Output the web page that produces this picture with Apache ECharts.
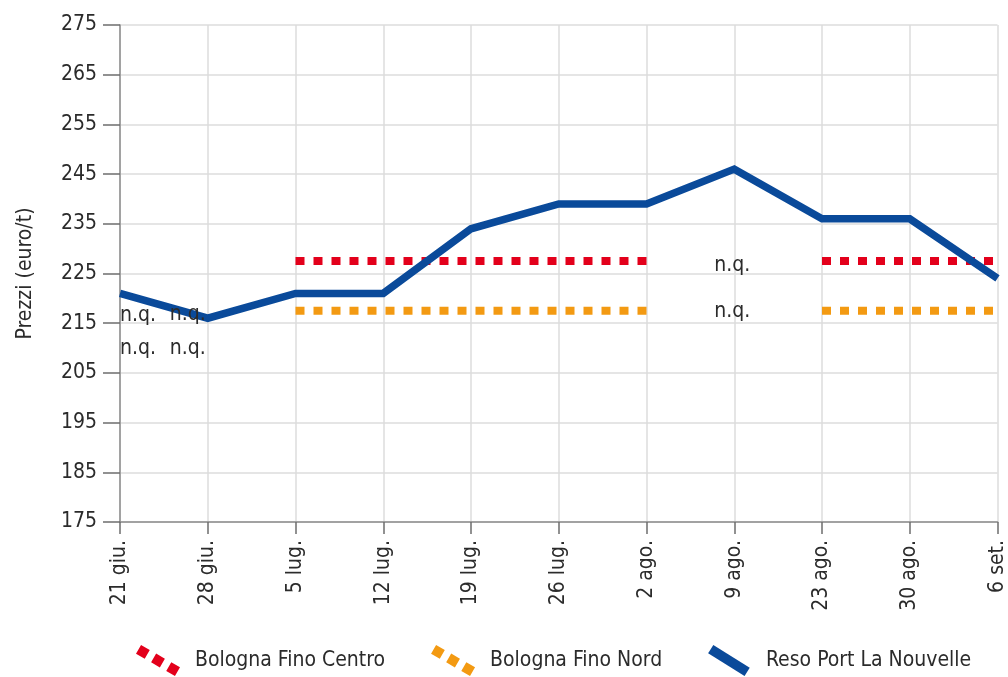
<!DOCTYPE html>
<html>
<head>
<meta charset="utf-8">
<script src="https://cdn.jsdelivr.net/npm/echarts@6/dist/echarts.min.js"></script>
<style>
  html, body { margin: 0; padding: 0; background: #fff; }
  #chart { width: 1008px; height: 677px; }
</style>
</head>
<body>
<div id="chart"></div>
<script>
// categorie (settimane)
var settimane = ['21 giu.', '28 giu.', '5 lug.', '12 lug.', '19 lug.', '26 lug.', '2 ago.', '9 ago.', '23 ago.', '30 ago.', '6 set.'];
// prezzi euro/t, null = n.q.
var finoCentro = [null, null, 227.5, 227.5, 227.5, 227.5, 227.5, null, 227.5, 227.5, 227.5];
var finoNord = [null, null, 217.5, 217.5, 217.5, 217.5, 217.5, null, 217.5, 217.5, 217.5];
var portLaNouvelle = [221, 216, 221, 221, 234, 239, 239, 246, 236, 236, 224];
// etichette n.q. (settimana, livello)
var nqCentro = [['21 giu.', 216.6], ['28 giu.', 216.8], ['9 ago.', 226.7]];
var nqNord = [['21 giu.', 210], ['28 giu.', 210], ['9 ago.', 217.3]];
var yTicks = { min: 175, max: 275, step: 10 };

var FONT = '"Liberation Sans Narrow", "DejaVu Sans Condensed", sans-serif';
var FS = 21;
var TXT = '#2b2b2b';

function nqPoints(list) {
  return list.map(function (p) {
    var al = 'center', off = [0, 0];
    if (p[0] === settimane[0]) { al = 'left'; off = [0, 0]; }
    else if (p[0] === settimane[1]) { al = 'right'; off = [-2, 0]; }
    else { off = [-2, 0]; }
    return {
      coord: p,
      label: { align: al, offset: off }
    };
  });
}

var markNq = function (list) {
  return {
    symbol: 'circle',
    symbolSize: 0,
    silent: true,
    label: {
      show: true,
      position: 'inside',
      formatter: 'n.q.',
      color: TXT,
      fontFamily: FONT,
      fontSize: FS
    },
    data: nqPoints(list)
  };
};

// icone legenda (quadratini in diagonale / linea spessa)
var iconDots = 'path://M13.83,5.17L8.83,13.83L0.17,8.83L5.17,0.17Z M28.83,13.67L23.83,22.33L15.17,17.33L20.17,8.67Z M43.83,22.17L38.83,30.83L30.17,25.83L35.17,17.17Z';
var iconLine = 'path://M7.64,0.75L44.64,23.75L39.36,32.25L2.36,9.25Z';

var myChart = echarts.init(document.getElementById('chart'));
myChart.setOption({
  animation: false,
  textStyle: { fontFamily: FONT },
  grid: { left: 120, right: 7, top: 25, bottom: 155, containLabel: false },
  legend: {
    bottom: 1,
    left: 136,
    padding: 0,
    itemWidth: 44,
    itemHeight: 31,
    itemGap: 46,
    itemStyle: { borderWidth: 0 },
    textStyle: { fontFamily: FONT, fontSize: FS, color: TXT, padding: [0, 0, 0, 10] },
    data: [
      { name: 'Bologna Fino Centro', icon: iconDots },
      { name: 'Bologna Fino Nord', icon: iconDots },
      { name: 'Reso Port La Nouvelle', icon: iconLine }
    ]
  },
  xAxis: {
    type: 'category',
    boundaryGap: false,
    data: settimane,
    axisLine: { lineStyle: { color: '#8c8c8c', width: 1.5 } },
    axisTick: { show: true, alignWithLabel: true, length: 12, lineStyle: { color: '#6e6e6e', width: 1.5 } },
    axisLabel: { rotate: 90, margin: 18, fontSize: FS, color: TXT, fontFamily: FONT },
    splitLine: { show: true, lineStyle: { color: '#dcdcdc', width: 1.5 } }
  },
  yAxis: {
    type: 'value',
    min: yTicks.min,
    max: yTicks.max,
    interval: yTicks.step,
    name: 'Prezzi (euro/t)',
    nameLocation: 'middle',
    nameGap: 84,
    nameTextStyle: { fontSize: FS, color: TXT, fontFamily: FONT },
    axisLine: { show: true, lineStyle: { color: '#8c8c8c', width: 1.5 } },
    axisTick: { show: true, length: 17, lineStyle: { color: '#6e6e6e', width: 1.5 } },
    axisLabel: { margin: 23, fontSize: FS, color: TXT, fontFamily: FONT },
    splitLine: { show: true, lineStyle: { color: '#dcdcdc', width: 1.5 } }
  },
  series: [
    {
      name: 'Bologna Fino Centro',
      type: 'line',
      data: finoCentro,
      showSymbol: false,
      connectNulls: false,
      itemStyle: { color: '#e3001b' },
      lineStyle: { color: '#e3001b', width: 8, type: [9, 9], cap: 'butt' },
      markPoint: markNq(nqCentro),
      z: 3
    },
    {
      name: 'Bologna Fino Nord',
      type: 'line',
      data: finoNord,
      showSymbol: false,
      connectNulls: false,
      itemStyle: { color: '#f39a12' },
      lineStyle: { color: '#f39a12', width: 8, type: [9, 9], cap: 'butt' },
      markPoint: markNq(nqNord),
      z: 3
    },
    {
      name: 'Reso Port La Nouvelle',
      type: 'line',
      data: portLaNouvelle,
      showSymbol: false,
      itemStyle: { color: '#0a4a9a' },
      lineStyle: { color: '#0a4a9a', width: 7.5, join: 'miter' },
      z: 4
    }
  ]
});
</script>
</body>
</html>
